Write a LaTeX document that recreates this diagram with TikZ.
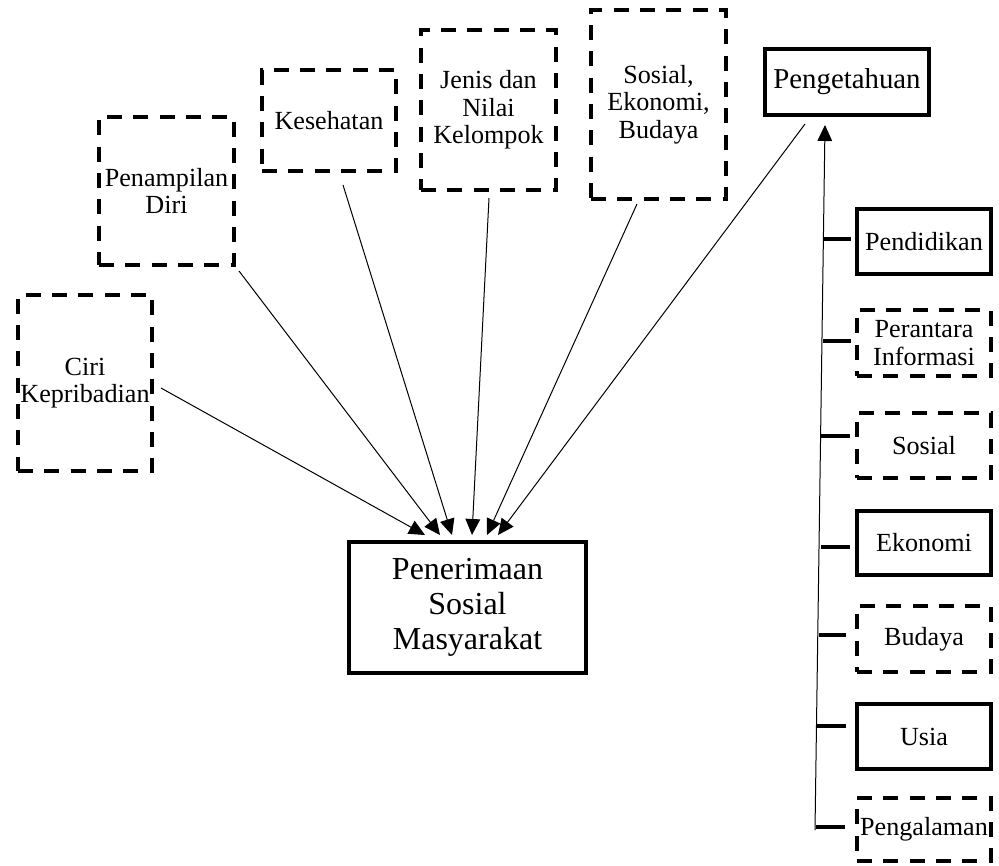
\documentclass[tikz,border=0pt]{standalone}
\usepackage{fontspec}
\setmainfont{Liberation Serif}
\usetikzlibrary{arrows.meta}
\begin{document}
\begin{tikzpicture}[x=0.75pt,y=-0.75pt,
  sz/.style 2 args={minimum width=#1*0.75pt,minimum height=#2*0.75pt},
  box/.style={draw,line width=3pt,inner sep=0pt,align=center,font=\fontsize{19.6}{20.6}\selectfont},
  dbox/.style={box,dash pattern=on 11.25pt off 8.5pt},
  conn/.style={line width=0.75pt,-{Triangle[length=12pt,width=11pt]}},
  tickln/.style={line width=2.5pt}]
\useasboundingbox (0,0) rectangle (999,865);
% left boxes
\node[dbox,sz={134}{176}] (ciri)   at (85,383)    {Ciri\\Kepribadian};
\node[dbox,sz={135}{148}] (penamp) at (166.5,191) {Penampilan\\Diri};
\node[dbox,sz={134}{101}] (kes)    at (329,120.5) {Kesehatan};
\node[dbox,sz={135}{160}] (jenis)  at (488.5,110) {Jenis dan\\Nilai\\Kelompok};
\node[dbox,sz={135}{189}] (sosek)  at (658.5,104.5) {Sosial,\\Ekonomi,\\Budaya};
\node[box,sz={164}{66},font=\fontsize{21.6}{24}\selectfont] (peng) at (847,82) {Pengetahuan};
% center
\node[box,sz={237}{131},font=\fontsize{24}{26}\selectfont] (pen) at (467.5,607.5) {Penerimaan\\Sosial\\Masyarakat};
% right column
\node[box,sz={134}{65}]  (pend)   at (924,241.5) {Pendidikan};
\node[dbox,sz={134}{66}] (peran)  at (924,343)   {Perantara\\Informasi};
\node[dbox,sz={134}{65}] (sos)    at (924,445.5) {Sosial};
\node[box,sz={134}{64}]  (eko)    at (924,543)   {Ekonomi};
\node[dbox,sz={134}{66}] (bud)    at (924,639)   {Budaya};
\node[box,sz={134}{65}]  (usia)   at (924,736.5) {Usia};
\node[dbox,sz={134}{63}] (pengal) at (924,829.5) {Pengalaman};
% connectors to center
\draw[conn] ([shift={(7,5)}]ciri.east)     -- ([shift={(-42.5,-5)}]pen.north);
\draw[conn] ([shift={(3,4)}]penamp.south east) -- ([shift={(-27.5,-5)}]pen.north);
\draw[conn] ([shift={(14,12)}]kes.south)   -- ([shift={(-15.5,-5)}]pen.north);
\draw[conn] ([shift={(0.5,6)}]jenis.south) -- ([shift={(4.5,-5)}]pen.north);
\draw[conn] ([shift={(-21.5,3)}]sosek.south) -- ([shift={(19.5,-5)}]pen.north);
\draw[conn] ([shift={(-42,7)}]peng.south)  -- ([shift={(30.5,-5)}]pen.north);
% vertical arrow
\coordinate (vbot) at (815,830);
\draw[conn] (vbot) -- ([shift={(-22,8)}]peng.south);
% ticks
\draw[tickln] ([shift={(-4,-2.5)}]pend.west)   -- +(-28,0);
\draw[tickln] ([shift={(-4,-2)}]peran.west)    -- +(-28,0);
\draw[tickln] ([shift={(-5,-9.5)}]sos.west)    -- +(-29,0);
\draw[tickln] ([shift={(-5,4)}]eko.west)       -- +(-29,0);
\draw[tickln] ([shift={(-9,-4)}]bud.west)      -- +(-27,0);
\draw[tickln] ([shift={(-9,-10.5)}]usia.west)  -- +(-29,0);
\draw[tickln] ([shift={(-10,-2.5)}]pengal.west) -- +(-29,0);
\end{tikzpicture}
\end{document}
